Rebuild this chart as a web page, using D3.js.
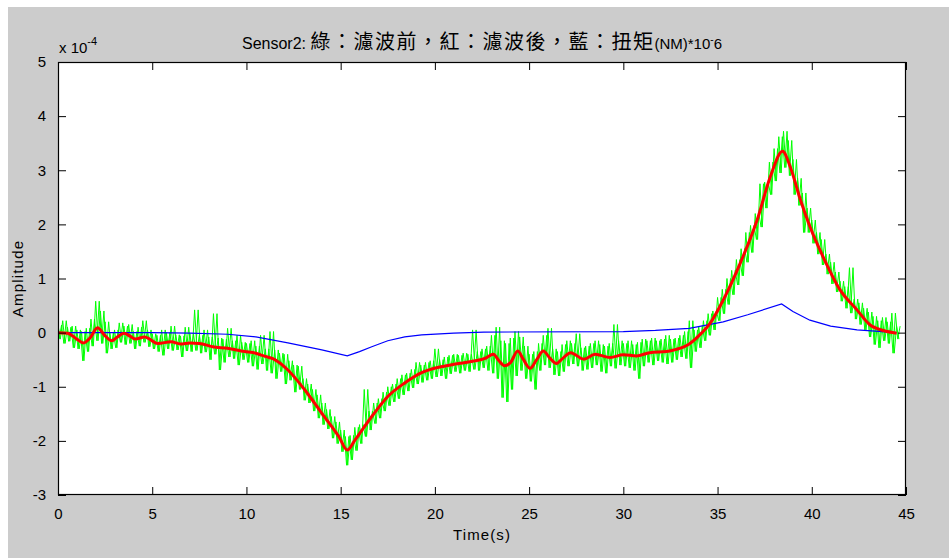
<!DOCTYPE html>
<html>
<head>
<meta charset="utf-8">
<script src="https://cdnjs.cloudflare.com/ajax/libs/d3/7.8.5/d3.min.js"></script>
<style>
  body { margin: 0; background: #fff; }
  text { font-family: "Liberation Sans", Arial, sans-serif; }
</style>
</head>
<body>
<div id="chart"></div>
<script>
// values in units of 1e-4
var xTicks = [0, 5, 10, 15, 20, 25, 30, 35, 40, 45];
var yTicks = [-3, -2, -1, 0, 1, 2, 3, 4, 5];

// red: filtered signal
var redT = [0, 0.5, 1.0, 1.35, 1.7, 2.1, 2.45, 2.85, 3.15, 3.5, 3.8, 4.1, 4.6, 5.3, 6.0, 6.5, 7.0, 7.5, 8.2, 9.0,
            9.9, 10.5, 11.0, 11.4, 12.2, 13.1, 14.0, 14.9, 15.35, 15.75, 16.65, 17.5, 18.4, 19.3, 20.2, 21.1, 22.0, 22.7, 23.1, 23.4,
            23.7, 24.0, 24.4, 24.7, 25.05, 25.4, 25.75, 26.1, 26.45, 26.8, 27.2, 27.9, 28.5, 29.3, 30.0, 30.7, 31.4, 32.3, 32.8, 33.5,
            34.0, 34.6, 35.3, 36.2, 37.1, 37.8, 38.45, 38.85, 39.4, 39.9, 40.6, 41.5, 42.4, 43.1, 43.8, 44.5];
var redV = [0, -0.01, -0.12, -0.19, -0.10, 0.09, -0.04, -0.15, -0.08, -0.01, -0.06, -0.12, -0.08, -0.2, -0.17, -0.21, -0.19, -0.2, -0.26, -0.29,
            -0.35, -0.38, -0.44, -0.48, -0.69, -1.06, -1.49, -1.92, -2.17, -1.99, -1.55, -1.18, -0.93, -0.74, -0.64, -0.58, -0.53, -0.47, -0.40, -0.52,
            -0.61, -0.56, -0.34, -0.50, -0.66, -0.50, -0.34, -0.47, -0.57, -0.47, -0.37, -0.49, -0.40, -0.46, -0.41, -0.43, -0.37, -0.35, -0.31, -0.21,
            -0.06, 0.17, 0.6, 1.28, 2.08, 2.88, 3.35, 3.07, 2.45, 1.96, 1.40, 0.79, 0.42, 0.14, 0.04, -0.01];

// blue: torque (NM)*10^-6
var blueT = [0, 5, 7, 9, 10.5, 12.2, 14, 15.35, 16, 16.65, 17.5, 18.4, 19.3, 21, 22.6, 30, 31.7, 33.5, 35.3, 36.6, 38.4, 39, 39.9, 41, 42.4, 44.5];
var blueV = [0, 0, -0.01, -0.03, -0.08, -0.19, -0.32, -0.43, -0.35, -0.26, -0.15, -0.08, -0.04, -0.01, 0.01, 0.02, 0.04, 0.08, 0.2, 0.33, 0.53, 0.39, 0.23, 0.12, 0.05, 0.0];

// green: raw signal, sampled every 0.25 s as high / low of each sample window
var greenStep = 0.25;
var greenHi = [
  0.14, 0.22, 0.10, 0.12, 0.05, 0.02, 0.08, 0.25, 0.58, 0.40,
  0.20, 0.00, 0.05, 0.18, 0.12, 0.15, 0.02, 0.10, 0.22, 0.05,
  -0.02, -0.05, 0.05, 0.00, 0.12, -0.04, -0.06, 0.10, -0.02, 0.42,
  -0.05, 0.05, -0.08, 0.35, -0.10, -0.12, 0.08, -0.15, -0.05, -0.18,
  -0.20, -0.15, -0.25, -0.05, -0.30, 0.02, -0.32, -0.38, -0.40, -0.52,
  -0.60, -0.62, -0.85, -0.95, -1.05, -1.15, -1.30, -1.42, -1.55, -1.65,
  -1.80, -1.92, -1.90, -1.75, -1.70, -1.05, -1.45, -1.30, -1.22, -1.10,
  -1.00, -0.95, -0.85, -0.78, -0.75, -0.68, -0.55, -0.60, -0.55, -0.52,
  -0.30, -0.50, -0.45, -0.42, -0.40, -0.42, -0.38, -0.40, 0.05, -0.35,
  -0.30, -0.25, -0.05, 0.10, -0.15, -0.20, -0.10, 0.02, -0.08, -0.25,
  -0.40, -0.35, -0.20, -0.05, 0.08, -0.30, -0.35, -0.22, -0.15, -0.20,
  -0.02, -0.28, -0.25, -0.20, -0.15, -0.22, -0.25, -0.20, 0.15, -0.15,
  -0.20, -0.15, -0.22, -0.18, -0.12, -0.15, -0.10, -0.15, -0.12, -0.05,
  -0.12, -0.10, -0.05, 0.02, 0.22, 0.05, 0.12, 0.22, 0.35, 0.40,
  0.65, 0.80, 1.00, 1.15, 1.35, 1.55, 1.85, 1.98, 2.20, 2.75,
  2.78, 3.15, 3.40, 3.62, 3.72, 3.55, 3.20, 2.85, 2.58, 2.30,
  2.08, 1.85, 1.72, 1.45, 1.30, 1.12, 0.95, 0.85, 1.20, 0.62,
  0.55, 0.45, 0.38, 0.30, 0.22, 0.28, 0.20, 0.36, 0.12];
var greenLo = [
  -0.12, -0.20, -0.16, -0.28, -0.30, -0.52, -0.35, -0.25, -0.15, -0.20,
  -0.38, -0.30, -0.28, -0.18, -0.22, -0.20, -0.30, -0.25, -0.18, -0.26,
  -0.30, -0.35, -0.42, -0.30, -0.33, -0.32, -0.45, -0.34, -0.35, -0.33,
  -0.38, -0.36, -0.50, -0.40, -0.69, -0.55, -0.45, -0.48, -0.60, -0.50,
  -0.55, -0.62, -0.68, -0.58, -0.70, -0.75, -0.85, -0.72, -0.95, -0.88,
  -1.10, -1.05, -1.25, -1.30, -1.45, -1.58, -1.70, -1.78, -1.95, -2.05,
  -2.20, -2.45, -2.35, -2.18, -2.05, -1.92, -1.80, -1.68, -1.58, -1.45,
  -1.35, -1.28, -1.22, -1.15, -1.08, -1.02, -0.95, -0.92, -0.88, -0.85,
  -0.82, -0.80, -0.85, -0.76, -0.72, -0.75, -0.70, -0.72, -0.68, -0.70,
  -0.65, -0.70, -0.75, -0.85, -1.20, -1.28, -1.05, -0.80, -0.70, -0.85,
  -0.90, -1.05, -0.70, -0.60, -0.65, -0.78, -0.80, -0.72, -0.62, -0.58,
  -0.62, -0.70, -0.68, -0.65, -0.60, -0.72, -0.75, -0.62, -0.66, -0.60,
  -0.62, -0.65, -0.70, -0.85, -0.62, -0.55, -0.60, -0.52, -0.55, -0.58,
  -0.55, -0.50, -0.45, -0.48, -0.65, -0.35, -0.28, -0.15, -0.05, 0.05,
  0.22, 0.35, 0.52, 0.70, 0.88, 1.05, 1.30, 1.48, 1.72, 1.95,
  2.30, 2.55, 2.80, 2.95, 3.05, 2.90, 2.55, 2.35, 1.85, 1.85,
  1.65, 1.45, 1.25, 1.08, 0.90, 0.75, 0.58, 0.45, 0.36, 0.25,
  0.15, 0.05, -0.08, -0.22, -0.28, -0.15, -0.20, -0.38, -0.12];

var W = 949, H = 560;
var margin = {left: 58, right: 43, top: 62, bottom: 65};

var svg = d3.select('#chart').append('svg')
	.attr('width', W)
	.attr('height', H);

// figure background
svg.append('rect')
	.attr('x', 8).attr('y', 7)
	.attr('width', W - 8).attr('height', H - 9)
	.attr('fill', '#cccccc');

var x = d3.scaleLinear().domain([0, 45]).range([margin.left, W - margin.right]);
var y = d3.scaleLinear().domain([-3, 5]).range([H - margin.bottom, margin.top]);

svg.append('rect')
	.attr('x', x(0)).attr('y', y(5))
	.attr('width', x(45) - x(0)).attr('height', y(-3) - y(5))
	.attr('fill', '#fff');

svg.append('clipPath').attr('id', 'plotclip')
	.append('rect')
	.attr('x', x(0)).attr('y', y(5))
	.attr('width', x(45) - x(0)).attr('height', y(-3) - y(5));

var g = svg.append('g').attr('clip-path', 'url(#plotclip)');

var line = d3.line()
	.x(function(d) { return x(d[0]); })
	.y(function(d) { return y(d[1]); });

// green: two interleaved zigzags (high->low and low->high) give the dense noise look
var greenA = [], greenB = [];
greenHi.forEach(function(h, i) {
	var t = i * greenStep;
	greenA.push([t, h]);
	greenA.push([t + greenStep * 0.5, greenLo[i]]);
	greenB.push([t + greenStep * 0.25, greenLo[i]]);
	greenB.push([t + greenStep * 0.75, h]);
});

[greenA, greenB].forEach(function(pts) {
	g.append('path')
		.datum(pts)
		.attr('d', line)
		.attr('fill', 'none')
		.attr('stroke', '#00ff00')
		.attr('stroke-width', 1);
});

g.append('path')
	.datum(blueT.map(function(t, i) { return [t, blueV[i]]; }))
	.attr('d', line)
	.attr('fill', 'none')
	.attr('stroke', '#0000ff')
	.attr('stroke-width', 1.2);

g.append('path')
	.datum(redT.map(function(t, i) { return [t, redV[i]]; }))
	.attr('d', d3.line()
		.x(function(d) { return x(d[0]); })
		.y(function(d) { return y(d[1]); })
		.curve(d3.curveMonotoneX))
	.attr('fill', 'none')
	.attr('stroke', '#ff0000')
	.attr('stroke-width', 3);

// axes, MATLAB box style with inner ticks
var tickLen = 8;
var fontSize = 15;
var fmt = function(d) { return String(d); };

svg.append('g')
	.attr('transform', 'translate(0,' + y(-3) + ')')
	.call(d3.axisBottom(x).tickValues(xTicks).tickFormat(fmt).tickSizeInner(-tickLen).tickSizeOuter(0).tickPadding(tickLen + 5))
	.call(function(a) { a.select('.domain').remove(); })
	.selectAll('text').attr('font-size', fontSize).attr('fill', '#000');

svg.append('g')
	.attr('transform', 'translate(0,' + y(5) + ')')
	.call(d3.axisTop(x).tickValues(xTicks).tickSizeInner(-tickLen).tickSizeOuter(0).tickFormat(''))
	.call(function(a) { a.select('.domain').remove(); });

svg.append('g')
	.attr('transform', 'translate(' + x(0) + ',0)')
	.call(d3.axisLeft(y).tickValues(yTicks).tickFormat(fmt).tickSizeInner(-tickLen).tickSizeOuter(0).tickPadding(tickLen + 4))
	.call(function(a) { a.select('.domain').remove(); })
	.selectAll('text').attr('font-size', fontSize).attr('fill', '#000');

svg.append('g')
	.attr('transform', 'translate(' + x(45) + ',0)')
	.call(d3.axisRight(y).tickValues(yTicks).tickSizeInner(-tickLen).tickSizeOuter(0).tickFormat(''))
	.call(function(a) { a.select('.domain').remove(); });

svg.selectAll('.tick line').attr('stroke', '#000');

svg.append('rect')
	.attr('x', x(0) + 0.5).attr('y', y(5) + 0.5)
	.attr('width', x(45) - x(0) - 1).attr('height', y(-3) - y(5) - 1)
	.attr('fill', 'none')
	.attr('stroke', '#000')
	.attr('stroke-width', 1.2);

// exponent label
var ex = svg.append('text')
	.attr('x', x(0) + 1).attr('y', 53)
	.attr('font-size', fontSize);
ex.append('tspan').text('x 10');
ex.append('tspan').attr('dy', -8).attr('font-size', 11).text('-4');

// title
var title = svg.append('text')
	.attr('x', (x(0) + x(45)) / 2).attr('y', 49)
	.attr('text-anchor', 'middle')
	.attr('font-size', 16);
title.append('tspan').text('Sensor2: ');
title.append('tspan').attr('font-family', '"Noto Sans CJK TC", sans-serif').attr('font-size', 20)
	.attr('letter-spacing', 1.5)
	.text('綠：濾波前，紅：濾波後，藍：扭矩');
title.append('tspan').attr('font-size', 15).text('(NM)*10');
title.append('tspan').attr('font-size', 10).attr('dy', -6).text('-');
title.append('tspan').attr('font-size', 15).attr('dy', 6).text('6');

svg.append('text')
	.attr('x', (x(0) + x(45)) / 2).attr('y', 540)
	.attr('text-anchor', 'middle')
	.attr('font-size', fontSize)
	.attr('letter-spacing', 1.1)
	.text('Time(s)');

svg.append('text')
	.attr('transform', 'translate(23,' + ((y(5) + y(-3)) / 2) + ') rotate(-90)')
	.attr('text-anchor', 'middle')
	.attr('font-size', fontSize)
	.attr('letter-spacing', 1.2)
	.text('Amplitude');
</script>
</body>
</html>
